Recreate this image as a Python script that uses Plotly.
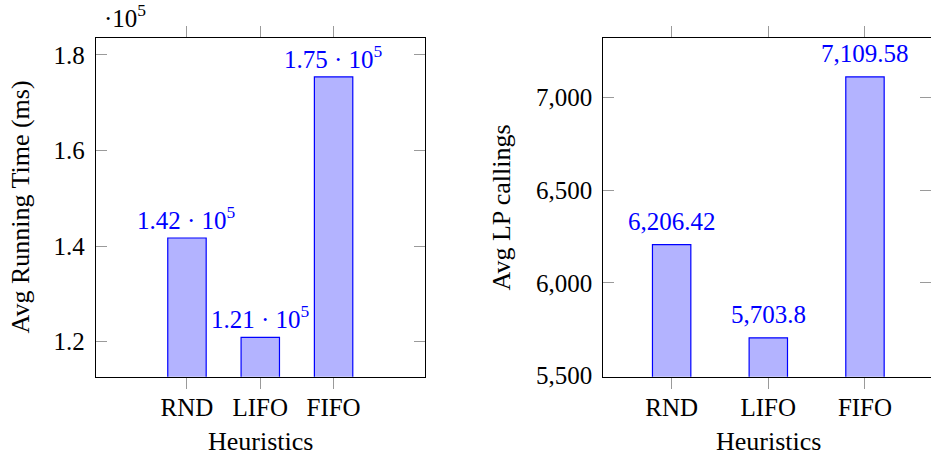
import plotly.graph_objects as go

# Data
heuristics = ["RND", "LIFO", "FIFO"]
running_time_ms = [141700, 120900, 175400]
lp_callings = [6206.42, 5703.8, 7109.58]

time_ticks = [120000, 140000, 160000, 180000]
time_tick_text = ["1.2", "1.4", "1.6", "1.8"]
calls_ticks = [5500, 6000, 6500, 7000]

FONT = "Liberation Serif"
FS = 25
TITLE_FS = 26
BAR_FILL = "#b3b3ff"
BLUE = "#0000ff"
TICK_GRAY = "#9a9a9a"


def sci_label(v):
    return f"{v / 1e5:.2f} · 10<sup>5</sup>"


def plain_label(v):
    s = f"{v:,.2f}".rstrip("0").rstrip(".")
    return s


fig = go.Figure()

fig.add_trace(go.Bar(
    x=heuristics, y=running_time_ms, width=0.524,
    marker=dict(color=BAR_FILL, line=dict(color=BLUE, width=1.2)),
    xaxis="x", yaxis="y", showlegend=False, hoverinfo="skip",
))
fig.add_trace(go.Bar(
    x=heuristics, y=lp_callings, width=0.397,
    marker=dict(color=BAR_FILL, line=dict(color=BLUE, width=1.2)),
    xaxis="x2", yaxis="y2", showlegend=False, hoverinfo="skip",
))

annotations = []
for h, v in zip(heuristics, running_time_ms):
    annotations.append(dict(x=h, y=v, xref="x", yref="y", text=sci_label(v),
                            showarrow=False, yanchor="bottom", yshift=2,
                            font=dict(family=FONT, size=FS, color=BLUE)))
for h, v in zip(heuristics, lp_callings):
    annotations.append(dict(x=h, y=v, xref="x2", yref="y2", text=plain_label(v),
                            showarrow=False, yanchor="bottom", yshift=8,
                            font=dict(family=FONT, size=FS, color=BLUE)))

# axis titles and the scale factor of the left axis
annotations += [
    dict(x=20 / 931, y=0.548, xref="paper", yref="paper", text="Avg Running Time (ms)",
         textangle=-90, showarrow=False, xanchor="center", yanchor="middle",
         font=dict(family=FONT, size=TITLE_FS, color="black")),
    dict(x=501 / 931, y=0.548, xref="paper", yref="paper", text="Avg LP callings",
         textangle=-90, showarrow=False, xanchor="center", yanchor="middle",
         font=dict(family=FONT, size=TITLE_FS, color="black")),
    dict(x=260 / 931, y=1 - 441 / 459, xref="paper", yref="paper", text="Heuristics",
         showarrow=False, xanchor="center", yanchor="middle",
         font=dict(family=FONT, size=TITLE_FS, color="black")),
    dict(x=768 / 931, y=1 - 441 / 459, xref="paper", yref="paper", text="Heuristics",
         showarrow=False, xanchor="center", yanchor="middle",
         font=dict(family=FONT, size=TITLE_FS, color="black")),
    dict(x=102 / 931, y=1 - 34 / 459, xref="paper", yref="paper", text="·10<sup>5</sup>",
         showarrow=False, xanchor="left", yanchor="bottom",
         font=dict(family=FONT, size=FS, color="black")),
]

common_x = dict(
    type="category", showline=True, linecolor="black", linewidth=1, mirror="ticks",
    ticks="outside", ticklen=11, tickwidth=1, tickcolor=TICK_GRAY,
    showgrid=False, zeroline=False, ticklabelstandoff=-3, automargin=False,
    tickfont=dict(family=FONT, size=FS, color="black"),
)
common_y = dict(
    showline=True, linecolor="black", linewidth=1, mirror="ticks",
    ticks="inside", ticklen=11, tickwidth=1, tickcolor=TICK_GRAY,
    showgrid=False, zeroline=False, ticklabelstandoff=5, automargin=False,
    tickfont=dict(family=FONT, size=FS, color="black"),
)

y_dom = [1 - 376.7 / 459, 1 - 38.3 / 459]

fig.update_layout(
    width=931, height=459,
    margin=dict(l=0, r=0, t=0, b=0, pad=0),
    paper_bgcolor="white", plot_bgcolor="white",
    barmode="overlay",
    xaxis=dict(common_x, domain=[95.7 / 931, 425 / 931], range=[-1.245, 3.247], anchor="y"),
    yaxis=dict(common_y, domain=y_dom, range=[112675, 183490], anchor="x",
               tickvals=time_ticks, ticktext=time_tick_text),
    xaxis2=dict(common_x, domain=[603.3 / 931, 1.0], range=[-0.707, 2.683], anchor="y2"),
    yaxis2=dict(common_y, domain=y_dom, range=[5494.6, 7317.9], anchor="x2",
                tickvals=calls_ticks, tickformat=","),
    annotations=annotations,
)

fig.write_html("out.html")
